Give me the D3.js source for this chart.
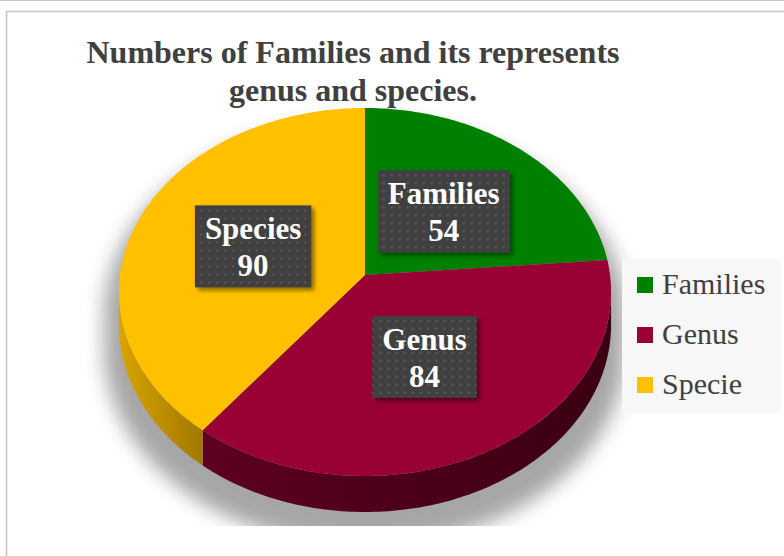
<!DOCTYPE html>
<html>
<head>
<meta charset="utf-8">
<script src="https://cdn.jsdelivr.net/npm/d3@7"></script>
<style>
  body { margin: 0; background: #fff; }
</style>
</head>
<body>
<div id="chart"></div>
<script>
// data
const categories = ['Families', 'Genus', 'Species'];
const legendLabels = ['Families', 'Genus', 'Specie'];
const counts = [54, 84, 90];
const titleLines = ['Numbers of Families and its represents', 'genus and species.'];

const width = 784;
const height = 556;

/* 3D pie geometry (perspective disc) */
const cx = 365, cy = 275;
const rx = 245, ry = 182.4;
const persp = 0.0924;
const depth = 32.7;
const labelR = 0.49;

const color = d3.scaleOrdinal()
  .domain(categories)
  .range(['#008000', '#990033', '#ffc000']);

const wallColor = d3.scaleOrdinal()
  .domain(categories)
  .range([['#006400', '#004800'], ['#5e0022', '#3a0011'], ['#d8a400', '#a27900']]);

function project(a, f, z) {
  const w = 1 + persp * f * Math.cos(a);
  return [cx + rx * f * Math.sin(a) / w, cy - ry * f * Math.cos(a) / w + z * depth / w];
}

function arcPts(a0, a1, z) {
  const n = Math.max(2, Math.ceil(Math.abs(a1 - a0) / (Math.PI / 180)));
  return d3.range(n + 1).map(i => project(a0 + (a1 - a0) * i / n, 1, z));
}

const line = d3.line();

const svg = d3.select('#chart').append('svg')
  .attr('width', width)
  .attr('height', height)
  .style('font-family', '"Liberation Serif", "Times New Roman", serif');

const defs = svg.append('defs');

const blur = defs.append('filter').attr('id', 'pieShadow')
  .attr('x', '-20%').attr('y', '-20%').attr('width', '140%').attr('height', '140%');
blur.append('feGaussianBlur').attr('stdDeviation', 9);

const boxShadow = defs.append('filter').attr('id', 'boxShadow')
  .attr('x', '-20%').attr('y', '-20%').attr('width', '150%').attr('height', '150%');
boxShadow.append('feDropShadow')
  .attr('dx', 3).attr('dy', 3).attr('stdDeviation', 2)
  .attr('flood-color', '#000').attr('flood-opacity', 0.45);

const dots = defs.append('pattern').attr('id', 'dots')
  .attr('width', 8).attr('height', 8)
  .attr('patternUnits', 'userSpaceOnUse');
dots.append('rect').attr('width', 8).attr('height', 8).attr('fill', '#404040');
dots.append('rect').attr('x', 3).attr('y', 3).attr('width', 2).attr('height', 2).attr('fill', '#5a5a5a');

defs.append('clipPath').attr('id', 'plotClip')
  .append('rect').attr('x', 0).attr('y', 0).attr('width', width).attr('height', 526);

/* chart frame */
svg.append('line')
  .attr('x1', 0).attr('x2', width).attr('y1', 0.5).attr('y2', 0.5)
  .attr('stroke', '#c8c8c8');
svg.append('rect')
  .attr('x', 6.5).attr('y', 11.5)
  .attr('width', 820).attr('height', 620)
  .attr('fill', '#fff')
  .attr('stroke', '#c4c4c4')
  .attr('stroke-width', 1.5);

/* pie data */
const pie = d3.pie().sort(null).value(d => d.value);
const arcs = pie(categories.map((c, i) => ({ name: c, value: counts[i] })));

const vis0 = Math.acos(-persp);
const vis1 = 2 * Math.PI - vis0;

/* soft shadow */
const silhouette = arcPts(vis1 - 2 * Math.PI, vis0, 0).concat(arcPts(vis0, vis1, 1));
svg.append('g')
  .attr('clip-path', 'url(#plotClip)')
  .append('path')
  .attr('d', line(silhouette) + 'Z')
  .attr('transform', `translate(${cx}, ${cy + 22}) scale(1.06, 1.05) translate(${-cx}, ${-cy})`)
  .attr('fill', '#777')
  .attr('opacity', 0.65)
  .attr('filter', 'url(#pieShadow)');

/* side walls */
const walls = svg.append('g').attr('class', 'walls');
arcs.forEach((d, i) => {
  const s = Math.max(d.startAngle, vis0);
  const e = Math.min(d.endAngle, vis1);
  if (s >= e) return;
  const top = arcPts(s, e, 0);
  const pts = top.concat(arcPts(s, e, 1).reverse());
  const xs = d3.extent(pts, p => p[0]);
  const gid = 'wall' + i;
  const cols = wallColor(d.data.name);
  const g = defs.append('linearGradient').attr('id', gid)
    .attr('gradientUnits', 'userSpaceOnUse')
    .attr('x1', xs[0]).attr('x2', xs[1]).attr('y1', 0).attr('y2', 0);
  g.append('stop').attr('offset', 0).attr('stop-color', cols[0]);
  g.append('stop').attr('offset', 1).attr('stop-color', cols[1]);
  walls.append('path')
    .attr('d', line(pts) + 'Z')
    .attr('fill', `url(#${gid})`);
});

/* top faces */
svg.append('g').attr('class', 'slices')
  .selectAll('path')
  .data(arcs).enter()
  .append('path')
  .attr('d', d => line([project(0, 0, 0)].concat(arcPts(d.startAngle, d.endAngle, 0))) + 'Z')
  .attr('fill', d => color(d.data.name));

/* data labels */
const labels = svg.append('g').attr('class', 'labels')
  .selectAll('g')
  .data(arcs).enter()
  .append('g')
  .attr('transform', d => {
    const p = project((d.startAngle + d.endAngle) / 2, labelR, 0);
    return `translate(${p[0]}, ${p[1]})`;
  });

labels.append('text')
  .attr('text-anchor', 'middle')
  .attr('y', -7)
  .attr('fill', '#fff')
  .style('font-size', '31px')
  .style('font-weight', 'bold')
  .text(d => d.data.name);

labels.append('text')
  .attr('text-anchor', 'middle')
  .attr('y', 30)
  .attr('fill', '#fff')
  .style('font-size', '31px')
  .style('font-weight', 'bold')
  .text(d => d.data.value);

labels.each(function() {
  const g = d3.select(this);
  const w = g.select('text').node().getComputedTextLength() + 20;
  g.insert('rect', 'text')
    .attr('x', -w / 2).attr('y', -41)
    .attr('width', w).attr('height', 82)
    .attr('fill', 'url(#dots)')
    .attr('filter', 'url(#boxShadow)');
});

/* legend */
const legend = svg.append('g').attr('class', 'legend');
legend.append('rect')
  .attr('x', 622).attr('y', 259)
  .attr('width', 159).attr('height', 154)
  .attr('fill', '#f7f7f7');

const items = legend.selectAll('.item')
  .data(categories).enter()
  .append('g')
  .attr('class', 'item')
  .attr('transform', (d, i) => `translate(637, ${277 + i * 50})`);

items.append('rect')
  .attr('width', 16).attr('height', 16)
  .attr('fill', d => color(d));

items.append('text')
  .attr('x', 25).attr('y', 17)
  .attr('fill', '#404040')
  .style('font-size', '30px')
  .text((d, i) => legendLabels[i]);

/* title */
svg.append('text')
  .attr('text-anchor', 'middle')
  .attr('fill', '#404040')
  .style('font-size', '32px')
  .style('font-weight', 'bold')
  .selectAll('tspan')
  .data(titleLines).enter()
  .append('tspan')
  .attr('x', 353)
  .attr('y', (d, i) => 63 + i * 38)
  .text(d => d);
</script>
</body>
</html>
